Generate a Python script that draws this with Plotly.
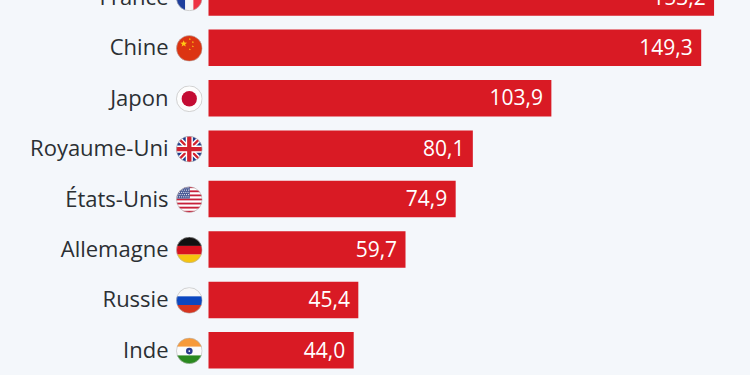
import base64
import math
import plotly.graph_objects as go

countries = ["France", "Chine", "Japon", "Royaume-Uni", "États-Unis", "Allemagne", "Russie", "Inde"]
values = [153.2, 149.3, 103.9, 80.1, 74.9, 59.7, 45.4, 44.0]
value_labels = ["153,2", "149,3", "103,9", "80,1", "74,9", "59,7", "45,4", "44,0"]
positions = list(range(len(countries)))

BG = "#f4f7fb"
RED = "#d91a24"
INK = "#2b2f33"
PX_PER_UNIT = 3.3
PITCH = 50.42
X0 = 208.5
Y_FIRST = -2.6
TEXT_DROP = 2.0 / PITCH


def star(cx, cy, r, fill):
    pts = []
    for i in range(10):
        a = -math.pi / 2 + i * math.pi / 5
        rr = r if i % 2 == 0 else r * 0.42
        pts.append(f"{cx + rr * math.cos(a):.2f},{cy + rr * math.sin(a):.2f}")
    return f'<polygon points="{" ".join(pts)}" fill="{fill}"/>'


def stripes():
    s = ""
    for i in range(13):
        s += f'<rect x="0" y="{i * 4}" width="52" height="4" fill="{"#c8213a" if i % 2 == 0 else "#ffffff"}"/>'
    s += '<rect x="0" y="0" width="27" height="24" fill="#4a5a96"/>'
    for r in range(5):
        for c in range(6):
            s += f'<circle cx="{2.5 + c * 4.2 + (r % 2) * 1.2}" cy="{3 + r * 4.4}" r="1.1" fill="#fff"/>'
    return s


flags = {
    "France": '<rect width="18" height="52" fill="#1f3f9c"/><rect x="18" width="16" height="52" fill="#f6f6f6"/><rect x="34" width="18" height="52" fill="#ee3344"/>',
    "Chine": '<rect width="52" height="52" fill="#dc3412"/>' + star(15, 17, 7, "#ffc915") + star(27, 8, 2.3, "#ffc915") + star(33, 14, 2.3, "#ffc915") + star(33, 22, 2.3, "#ffc915") + star(27, 28, 2.3, "#ffc915"),
    "Japon": '<rect width="52" height="52" fill="#fdfdfd"/><circle cx="26" cy="26" r="15" fill="#c40c33"/>',
    "Royaume-Uni": '<rect width="52" height="52" fill="#1f3c8c"/>'
                   '<path d="M0 0L52 52M52 0L0 52" stroke="#fff" stroke-width="10"/>'
                   '<path d="M0 0L52 52M52 0L0 52" stroke="#d3202f" stroke-width="4.5"/>'
                   '<path d="M26 0V52M0 26H52" stroke="#fff" stroke-width="14"/>'
                   '<path d="M26 0V52M0 26H52" stroke="#d3202f" stroke-width="8.5"/>',
    "États-Unis": stripes(),
    "Allemagne": '<rect width="52" height="18" fill="#111"/><rect y="18" width="52" height="17" fill="#d8121f"/><rect y="35" width="52" height="17" fill="#f6c40f"/>',
    "Russie": '<rect width="52" height="18" fill="#f8f8f8"/><rect y="18" width="52" height="17" fill="#0c47c0"/><rect y="35" width="52" height="17" fill="#d6341f"/>',
    "Inde": '<rect width="52" height="18" fill="#f79a3a"/><rect y="18" width="52" height="17" fill="#fbfbfb"/><rect y="35" width="52" height="17" fill="#2a8a1f"/><circle cx="26" cy="26.5" r="6.5" fill="#2a3a8c"/><circle cx="26" cy="26.5" r="1.8" fill="#fbfbfb"/>',
}


def flag_uri(name):
    svg = ('<svg xmlns="http://www.w3.org/2000/svg" width="104" height="104" viewBox="0 0 52 52">'
           '<defs><clipPath id="c"><circle cx="26" cy="26" r="25.4"/></clipPath></defs>'
           f'<g clip-path="url(#c)">{flags[name]}</g>'
           '<circle cx="26" cy="26" r="25.2" fill="none" stroke="#b5b5b5" stroke-width="1.2"/></svg>')
    return "data:image/svg+xml;base64," + base64.b64encode(svg.encode()).decode()


fig = go.Figure()
fig.add_bar(
    x=values, y=positions, orientation="h", width=0.724,
    marker=dict(color=RED, line=dict(width=0)), hoverinfo="skip",
)
fig.add_scatter(
    x=[v - 2.55 for v in values], y=[p + TEXT_DROP for p in positions], mode="text", text=value_labels,
    textposition="middle left", hoverinfo="skip",
    textfont=dict(family="Open Sans", size=21, color="#ffffff"),
)
fig.add_scatter(
    x=[(168.5 - X0) / PX_PER_UNIT] * len(countries), y=[p + TEXT_DROP for p in positions], mode="text", text=countries,
    textposition="middle left", hoverinfo="skip",
    textfont=dict(family="Open Sans", size=22, color=INK),
)

for name, p in zip(countries, positions):
    fig.add_layout_image(
        source=flag_uri(name), xref="x", yref="y",
        x=(189.3 - X0) / PX_PER_UNIT, y=p + 0.5 / PITCH,
        sizex=26.5 / PX_PER_UNIT, sizey=26.5 / PITCH,
        xanchor="center", yanchor="middle", sizing="stretch", layer="above",
    )

fig.update_layout(
    width=750, height=375, autosize=False, margin=dict(l=0, r=0, t=0, b=0, pad=0),
    paper_bgcolor=BG, plot_bgcolor=BG, showlegend=False,
    xaxis=dict(visible=False, range=[-X0 / PX_PER_UNIT, (750 - X0) / PX_PER_UNIT], fixedrange=True),
    yaxis=dict(visible=False, range=[(375 - Y_FIRST) / PITCH, -Y_FIRST / PITCH], fixedrange=True),
)
fig.write_html(
    "out.html", config={"displayModeBar": False},
    post_script="document.body.style.margin='0';document.body.style.overflow='hidden';document.documentElement.style.background='%s';" % BG,
)
